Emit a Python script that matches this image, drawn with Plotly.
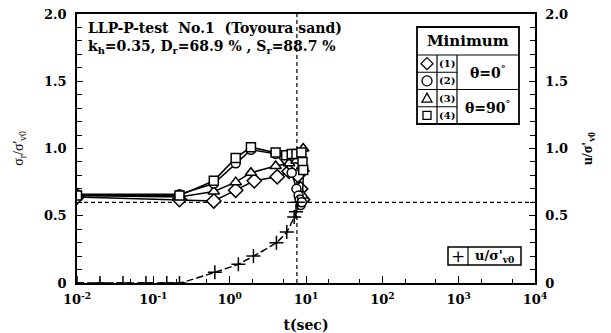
import plotly.graph_objects as go

# ---------------- data ----------------
t_diamond = [0.01, 0.22, 0.62, 1.2, 2.1, 4.2, 6.0, 7.8, 8.5, 9.0]
y_diamond = [0.64, 0.62, 0.61, 0.69, 0.76, 0.79, 0.83, 0.80, 0.70, 0.62]

t_circle = [0.01, 0.22, 0.62, 1.2, 1.9, 4.0, 6.5, 7.5, 8.0, 8.3, 8.5, 8.8]
y_circle = [0.66, 0.66, 0.74, 0.89, 0.99, 0.96, 0.82, 0.70, 0.65, 0.62, 0.58, 0.60]

t_triangle = [0.01, 0.22, 0.62, 1.2, 1.9, 4.0, 6.0, 7.5, 9.2, 9.3, 9.0]
y_triangle = [0.65, 0.64, 0.68, 0.75, 0.82, 0.87, 0.89, 0.91, 1.00, 0.85, 0.65]

t_square = [0.01, 0.22, 0.62, 1.2, 1.9, 4.0, 5.5, 6.5, 7.5, 8.7, 9.0, 9.2]
y_square = [0.65, 0.65, 0.76, 0.93, 1.01, 0.97, 0.95, 0.96, 0.96, 0.97, 0.90, 0.84]

t_u = [0.01, 0.02, 0.04, 0.08, 0.15, 0.22, 0.64, 1.3, 2.05, 4.1, 5.6, 7.0, 7.4, 7.8]
y_u = [0, 0, 0, 0, 0, 0, 0.08, 0.14, 0.20, 0.30, 0.38, 0.49, 0.53, 0.60]

ref_level = 0.6      # horizontal dashed reference
ref_time = 7.6       # vertical dashed reference

x_tickvals = [1e-2, 1e-1, 1e0, 1e1, 1e2, 1e3, 1e4]
x_ticktext = ["10<sup>-2</sup>", "10<sup>-1</sup>", "10<sup>0</sup>", "10<sup>1</sup>",
              "10<sup>2</sup>", "10<sup>3</sup>", "10<sup>4</sup>"]
y_tickvals = [0, 0.5, 1.0, 1.5, 2.0]
y_ticktext = ["0", "0.5", "1.0", "1.5", "2.0"]

# ---------------- layout geometry ----------------
W, H = 611, 333
L, R, T, B = 77, 535, 14, 283


def X(px):
    return (px - L) / (R - L)


def Y(py):
    return (B - py) / (B - T)


FONT = "DejaVu Serif"
TFONT = "Liberation Serif"
fig = go.Figure()

# reference dashed lines
fig.add_trace(go.Scatter(x=[1e-2, 1e4], y=[ref_level, ref_level], mode="lines",
                         line=dict(color="black", width=1.2, dash="4px,3px"),
                         showlegend=False, hoverinfo="skip"))
fig.add_trace(go.Scatter(x=[ref_time, ref_time], y=[0, 2], mode="lines",
                         line=dict(color="black", width=1.2, dash="4px,3px"),
                         showlegend=False, hoverinfo="skip"))

mk = dict(color="white", size=9, line=dict(color="black", width=1.5))
for t, y, sym in [(t_diamond, y_diamond, "diamond"),
                  (t_triangle, y_triangle, "triangle-up"),
                  (t_circle, y_circle, "circle"),
                  (t_square, y_square, "square")]:
    m = dict(mk)
    m["symbol"] = sym
    if sym == "diamond":
        m["size"] = 11
    if sym == "triangle-up":
        m["size"] = 10
    fig.add_trace(go.Scatter(x=t, y=y, mode="lines+markers",
                             line=dict(color="black", width=1.5),
                             marker=m, showlegend=False))

fig.add_trace(go.Scatter(x=t_u, y=y_u, mode="lines+markers", yaxis="y2",
                         line=dict(color="black", width=1.5, dash="7px,3px", shape="spline",
                                   smoothing=0.5),
                         marker=dict(symbol="cross-thin", size=10,
                                     line=dict(color="black", width=1.5)),
                         showlegend=False))

axis_common = dict(showline=True, linecolor="black", linewidth=1.5,
                   ticks="inside", tickcolor="black", tickwidth=1.2,
                   showgrid=False, zeroline=False, automargin=False,
                   tickfont=dict(family=FONT, size=13, color="black", weight="bold"))

fig.update_layout(
    width=W, height=H,
    margin=dict(l=L, r=W - R, t=T, b=H - B),
    plot_bgcolor="white", paper_bgcolor="white",
    xaxis=dict(type="log", range=[-2, 4], tickvals=x_tickvals, ticktext=x_ticktext,
               ticklen=7, mirror=True, ticklabelstandoff=4,
               minor=dict(ticks="inside", ticklen=4, tickcolor="black", tickwidth=1.2, showgrid=False),
               title=dict(text="t(sec)", font=dict(family=FONT, size=14, color="black", weight="bold"),
                          standoff=14),
               **axis_common),
    yaxis=dict(range=[0, 2], tickvals=y_tickvals, ticktext=y_ticktext, ticklen=6,
               ticklabelstandoff=6,
               minor=dict(ticks="inside", ticklen=5, dtick=0.1, tickcolor="black", tickwidth=1.2,
                          showgrid=False),
               title=dict(text="σ<sub>r</sub>/σ'<sub>v0</sub>",
                          font=dict(family=TFONT, size=14, color="black"), standoff=17),
               **axis_common),
    yaxis2=dict(range=[0, 2], overlaying="y", side="right", tickvals=y_tickvals,
                ticktext=y_ticktext, ticklen=6, ticklabelstandoff=6,
                minor=dict(ticks="inside", ticklen=5, dtick=0.1, tickcolor="black", tickwidth=1.2,
                           showgrid=False),
                title=dict(text="u/σ'<sub>v0</sub>",
                           font=dict(family=TFONT, size=14, color="black", weight="bold"), standoff=15),
                **axis_common),
)

# ---------------- text annotations ----------------
def ann(text, px, py, size=14, xanchor="left", yanchor="middle", bold=True, family=FONT):
    fig.add_annotation(text=text, x=X(px), y=Y(py), xref="paper", yref="paper",
                       xanchor=xanchor, yanchor=yanchor, showarrow=False,
                       font=dict(family=family, size=size, color="black",
                                 weight="bold" if bold else "normal"))


ann("LLP-P-test  No.1  (Toyoura sand)", 86, 28, size=14)
ann("k<sub>h</sub>=0.35, D<sub>r</sub>=68.9 % , S<sub>r</sub>=88.7 %", 86, 47, size=14)

# ---------------- legend table ----------------
shapes = []


def line(x0, y0, x1, y1, w=1.2):
    shapes.append(dict(type="line", xref="paper", yref="paper",
                       x0=X(x0), y0=Y(y0), x1=X(x1), y1=Y(y1),
                       line=dict(color="black", width=w)))


bx0, bx1, by0, by1 = 417, 519, 27, 124
shapes.append(dict(type="rect", xref="paper", yref="paper", x0=X(bx0), x1=X(bx1),
                   y0=Y(by1), y1=Y(by0), line=dict(color="black", width=1.8),
                   fillcolor="white", layer="above"))
hdr = 55
line(bx0, hdr, bx1, hdr)
line(437, hdr, 437, by1)
line(457, hdr, 457, by1)
rows = [hdr + i * (by1 - hdr) / 4 for i in range(5)]
line(bx0, rows[1], 457, rows[1])
line(bx0, rows[2], bx1, rows[2])
line(bx0, rows[3], 457, rows[3])

ann("Minimum", (bx0 + bx1) / 2, 41, size=15, xanchor="center")
labels = ["(1)", "(2)", "(3)", "(4)"]
for i, lab in enumerate(labels):
    cy = (rows[i] + rows[i + 1]) / 2
    ann(lab, 447, cy, size=10, xanchor="center")

# legend symbols
cx = 427
s = 5
cys = [(rows[i] + rows[i + 1]) / 2 for i in range(4)]
cy = cys[0]
shapes.append(dict(type="path", xref="paper", yref="paper",
                   path=f"M {X(cx)},{Y(cy - s - 1)} L {X(cx + s + 1)},{Y(cy)} L {X(cx)},{Y(cy + s + 1)} L {X(cx - s - 1)},{Y(cy)} Z",
                   line=dict(color="black", width=1.3), fillcolor="white"))
cy = cys[1]
shapes.append(dict(type="circle", xref="paper", yref="paper",
                   x0=X(cx - s), x1=X(cx + s), y0=Y(cy + s), y1=Y(cy - s),
                   line=dict(color="black", width=1.3), fillcolor="white"))
cy = cys[2]
shapes.append(dict(type="path", xref="paper", yref="paper",
                   path=f"M {X(cx)},{Y(cy - s)} L {X(cx + s)},{Y(cy + s - 1)} L {X(cx - s)},{Y(cy + s - 1)} Z",
                   line=dict(color="black", width=1.3), fillcolor="white"))
cy = cys[3]
shapes.append(dict(type="rect", xref="paper", yref="paper",
                   x0=X(cx - s + 1), x1=X(cx + s - 1), y0=Y(cy + s - 1), y1=Y(cy - s + 1),
                   line=dict(color="black", width=1.3), fillcolor="white"))

ann("θ=0<sup>°</sup>", 488, rows[1], size=14, xanchor="center")
ann("θ=90<sup>°</sup>", 488, rows[3], size=14, xanchor="center")

# u legend box
ux0, ux1, uy0, uy1 = 448, 521, 247, 265
shapes.append(dict(type="rect", xref="paper", yref="paper", x0=X(ux0), x1=X(ux1),
                   y0=Y(uy1), y1=Y(uy0), line=dict(color="black", width=1.5),
                   fillcolor="white"))
line(468, uy0, 468, uy1)
ann("+", 458, (uy0 + uy1) / 2, size=17, xanchor="center", bold=False)
ann("u/σ'<sub>v0</sub>", 494, (uy0 + uy1) / 2, size=13, xanchor="center")

fig.update_layout(shapes=shapes)
fig.write_html("out.html")
